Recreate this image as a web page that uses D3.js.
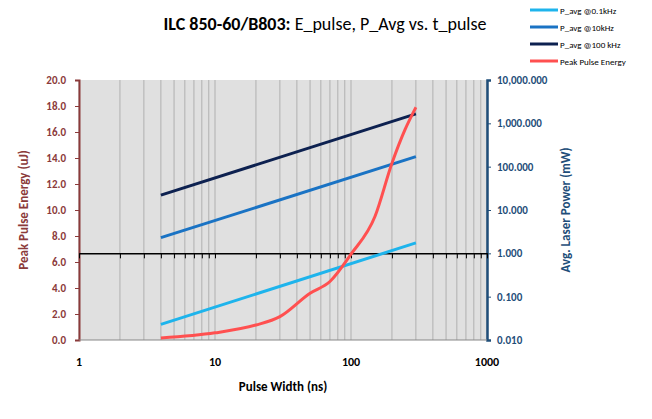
<!DOCTYPE html><html><head><meta charset="utf-8"><script src="https://cdn.jsdelivr.net/npm/d3@7"></script>
<style>body{margin:0;background:#fff}text{font-family:Carlito,Calibri,"Liberation Sans",sans-serif}</style></head><body><svg id="c" width="652" height="419"></svg><script>
const tpulse=[4,10,20,30,50,70,100,150,200,250,300];
const energy=[0.15,0.55,1.15,1.8,3.6,4.5,6.6,9.5,13.6,16.2,17.9];
const pTimes=[4,300];
const p01=[0.023,1.74];
const p10=[2.3,170];
const p100=[22,1650];
const leftTicks=[0,2,4,6,8,10,12,14,16,18,20];
const rightTicks=[0.01,0.1,1,10,100,1000,10000];
const xTicks=[1,10,100,1000];
const series=[{n:"P_avg @0.1kHz",c:"#1EB4EC",v:p01},{n:"P_avg @10kHz",c:"#1A73C4",v:p10},{n:"P_avg @100 kHz",c:"#0D2150",v:p100}];
const svg=d3.select("#c");
const L=79,R=487,T=80,B=340;
const x=d3.scaleLog().domain([1,1000]).range([L,R]);
const yl=d3.scaleLinear().domain([0,20]).range([B,T]);
const yr=d3.scaleLog().domain([0.01,10000]).range([B,T]);
svg.append("rect").attr("x",L).attr("y",T).attr("width",R-L).attr("height",B-T).attr("fill","#e0e0e0");
const grid=[];for(let d=1;d<1000;d*=10)for(let k=1;k<10;k++)grid.push(d*k);grid.push(1000);
svg.append("g").selectAll("line").data(grid).join("line").attr("x1",d=>x(d)).attr("x2",d=>x(d)).attr("y1",T).attr("y2",B).attr("stroke","#b0b0b0").attr("stroke-width",1);
const la=svg.append("g").attr("transform",`translate(${L},0)`).call(d3.axisLeft(yl).tickValues(leftTicks).tickFormat(d3.format(".1f")).tickSize(4));
la.select(".domain").attr("stroke","#8B3A3A").attr("stroke-width",2);
la.selectAll(".tick line").attr("stroke","#8B3A3A");
la.selectAll("text").attr("fill","#8B3A3A").attr("font-size",11).attr("font-weight","bold").attr("x",-13);
const ra=svg.append("g").attr("transform",`translate(${R},0)`).call(d3.axisRight(yr).tickValues(rightTicks).tickFormat(d3.format(",.3f")).tickSize(4));
ra.select(".domain").attr("stroke","#1F4E79").attr("stroke-width",2.5);
ra.selectAll(".tick line").attr("stroke","#1F4E79");
ra.selectAll("text").attr("fill","#1F4E79").attr("font-size",11).attr("font-weight","bold").attr("x",10);
svg.append("line").attr("x1",L).attr("x2",R).attr("y1",B).attr("y2",B).attr("stroke","#888");
const xa=svg.append("g").attr("transform",`translate(0,${yr(1)})`).call(d3.axisBottom(x).tickValues(grid).tickFormat("").tickSize(5).tickSizeOuter(0));
xa.selectAll("line,path").attr("stroke","#000");xa.select(".domain").attr("stroke-width",1.5);
svg.append("g").selectAll("text").data(xTicks).join("text").attr("x",d=>x(d)).attr("y",366).attr("text-anchor","middle").attr("font-size",12).attr("font-weight","bold").text(d=>d);
const lp=d3.line().x((d,i)=>x(pTimes[i])).y(d=>yr(d));
series.forEach(s=>svg.append("path").attr("d",lp(s.v)).attr("fill","none").attr("stroke",s.c).attr("stroke-width",3));
svg.append("path").datum(energy).attr("d",d3.line().curve(d3.curveMonotoneX).x((d,i)=>x(tpulse[i])).y(d=>yl(d))).attr("fill","none").attr("stroke","#FF5050").attr("stroke-width",3);
const t=svg.append("text").attr("x",325).attr("y",30).attr("text-anchor","middle").attr("font-size",18);
t.append("tspan").attr("font-weight","bold").text("ILC 850-60/B803:");
t.append("tspan").text(" E_pulse, P_Avg vs. t_pulse");
svg.append("text").attr("x",283).attr("y",391).attr("text-anchor","middle").attr("font-size",13).attr("font-weight","bold").text("Pulse Width (ns)");
svg.append("text").attr("transform","translate(28,210) rotate(-90)").attr("text-anchor","middle").attr("font-size",13).attr("font-weight","bold").attr("fill","#8B3A3A").text("Peak Pulse Energy (uJ)");
svg.append("text").attr("transform","translate(570,210) rotate(-90)").attr("text-anchor","middle").attr("font-size",13).attr("font-weight","bold").attr("fill","#1F4E79").text("Avg. Laser Power (mW)");
const leg=series.map(s=>({n:s.n,c:s.c})).concat([{n:"Peak Pulse Energy",c:"#FF5050"}]);
const lg=svg.append("g").selectAll("g").data(leg).join("g").attr("transform",(d,i)=>`translate(530,${10+i*17})`);
lg.append("line").attr("x1",0).attr("x2",28).attr("stroke",d=>d.c).attr("stroke-width",3);
lg.append("text").attr("x",30).attr("y",3.5).attr("font-size",9).text(d=>d.n);
</script></body></html>
